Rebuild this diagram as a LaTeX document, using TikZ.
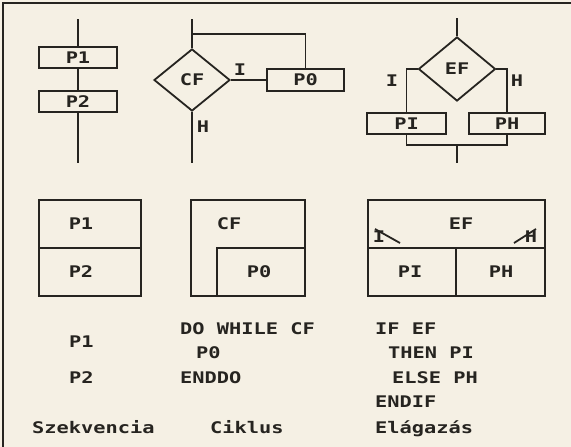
\documentclass[tikz,border=0pt]{standalone}
\usepackage{fontspec}
\usetikzlibrary{shapes.geometric}
\newfontfamily\dosfont[FakeStretch=1.27]{DejaVu Sans Mono}
\definecolor{paper}{RGB}{245,240,228}
\definecolor{ink}{RGB}{38,36,32}
\tikzset{
  txt/.style={inner sep=0pt, text=ink, font=\dosfont\bfseries\fontsize{16}{18}\selectfont},
  line/.style={draw=ink, line width=1.8pt},
  pbox/.style={txt, line, rectangle, minimum height=21pt},
  cond/.style={txt, line, diamond, inner sep=0pt},
  code/.style={txt, anchor=base west},
}
\begin{document}
\begin{tikzpicture}[x=1pt,y=-1pt]
  % paper and frame
  \fill[paper] (0,0) rectangle (571,447);
  \useasboundingbox (0,0) rectangle (571,447);
  \draw[line, line width=2pt] (3,447) -- (3,3) -- (571,3);

  % ---- sequence flowchart
  \coordinate (s0) at (78,19);
  \coordinate (s3) at (78,163);
  \node[pbox, minimum width=78pt] (sp1) at (78,57.5) {P1};
  \node[pbox, minimum width=78pt] (sp2) at (78,101.5) {P2};
  \draw[line] (s0) -- (sp1.north);
  \draw[line] (sp1.south) -- (sp2.north);
  \draw[line] (sp2.south) -- (s3);

  % ---- loop flowchart
  \coordinate (c0) at (192,19);
  \coordinate (cl) at (192,34);
  \coordinate (c3) at (192,163);
  \node[cond, minimum width=76pt, minimum height=62pt] (cf) at (192,80) {CF};
  \node[pbox, minimum width=77pt, minimum height=22pt] (cp0) at (305.5,80) {P0};
  \draw[line] (c0) -- (cf.north);
  \draw[line] (cl) -| (cp0.north);
  \draw[line] (cf.east) -- (cp0.west);
  \draw[line] (cf.south) -- (c3);
  \node[txt] (ci) at (240,70) {I};
  \node[txt] (ch) at (203,127) {H};

  % ---- branch flowchart
  \coordinate (e0) at (457,18);
  \coordinate (ej) at (457,145);
  \coordinate (e3) at (457,163);
  \node[cond, minimum width=77pt, minimum height=64pt] (ef) at (457,69) {EF};
  \node[pbox, minimum width=79pt] (epi) at (406.5,123.5) {PI};
  \node[pbox, minimum width=76pt] (eph) at (507,123.5) {PH};
  \draw[line] (e0) -- (ef.north);
  \draw[line] (ef.west) -| (epi.north);
  \draw[line] (ef.east) -| (eph.north);
  \draw[line] (epi.south) |- (ej) -| (eph.south);
  \draw[line] (ej) -- (e3);
  \node[txt] (ei) at (392,81) {I};
  \node[txt] (eh) at (517,81) {H};

  % ---- structograms
  \draw[line] (39,200) rectangle (141,296);
  \draw[line] (39,248) -- (141,248);
  \node[txt] at (81,224) {P1};
  \node[txt] at (81,272) {P2};

  \draw[line] (191,200) rectangle (305,296);
  \draw[line] (217,296) -- (217,248) -- (305,248);
  \node[txt] at (229,224) {CF};
  \node[txt] at (259,272) {P0};

  \draw[line] (368,200) rectangle (545,296);
  \draw[line] (368,248) -- (545,248);
  \draw[line] (456,248) -- (456,296);
  \draw[line] (375,229) -- (400,243);
  \draw[line] (514,243) -- (536,229);
  \node[txt] at (461,224) {EF};
  \node[txt] at (379,237) {I};
  \node[txt] at (531,237) {H};
  \node[txt] at (410,272) {PI};
  \node[txt] at (501,272) {PH};

  % ---- pseudocode
  \node[code] at (69,347) {P1};
  \node[code] at (69,383) {P2};
  \node[code] at (180,334) {DO WHILE CF};
  \node[code] at (196,358) {P0};
  \node[code] at (180,383) {ENDDO};
  \node[code] at (375,334) {IF EF};
  \node[code] at (388,358) {THEN PI};
  \node[code] at (392,383) {ELSE PH};
  \node[code] at (375,407) {ENDIF};

  % ---- captions
  \node[code] at (32,433) {Szekvencia};
  \node[code] at (210,433) {Ciklus};
  \node[code] at (375,433) {Elágazás};
\end{tikzpicture}
\end{document}
